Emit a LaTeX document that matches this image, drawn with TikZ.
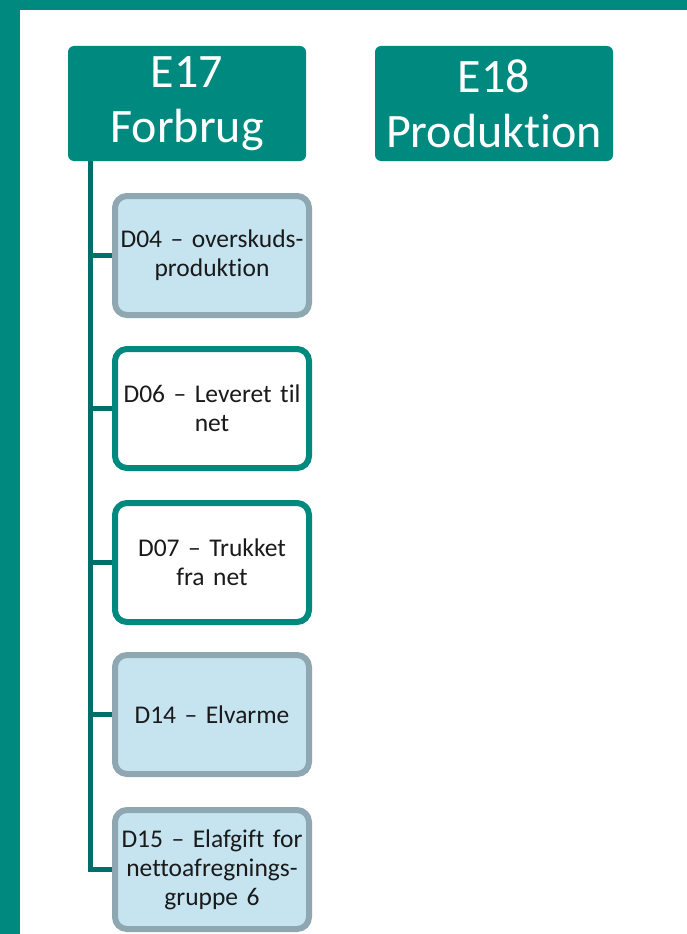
\documentclass[tikz,border=0pt]{standalone}
\usepackage{fontspec}
\setmainfont{Carlito}[Ligatures=NoCommon, WordSpace={0.6,0,0}]
\usetikzlibrary{positioning}

\definecolor{Band}{HTML}{00897F}
\definecolor{Head}{HTML}{00897F}
\definecolor{Spine}{HTML}{006E6A}
\definecolor{Rim}{HTML}{8FA7B1}
\definecolor{Pale}{HTML}{C6E4F0}
\definecolor{Ink}{HTML}{1A1A1A}

\tikzset{
  headbox/.style={fill=Head, text=white, rounded corners=6pt, minimum width=238pt,
    minimum height=115pt, align=center, font=\fontsize{48}{55}\selectfont, inner sep=0pt},
  itembox/.style={rounded corners=12pt, line width=6pt, minimum width=194pt,
    minimum height=119pt, text width=190pt, align=center, text=Ink,
    font=\fontsize{25.5}{29}\selectfont, inner sep=0pt},
  shaded/.style={itembox, draw=Rim, fill=Pale},
  plain/.style={itembox, draw=Band, fill=white},
  branch/.style={draw=Spine, line width=5pt}
}

\begin{document}
\begin{tikzpicture}[x=1pt, y=-1pt]

 %%%%%%%%%% Frame %%%%%%%%%%
 \useasboundingbox (0,0) rectangle (687,934);
 \fill [white] (0,0) rectangle (687,934);
 \fill [Band] (0,0) rectangle (20,934);
 \fill [Band] (0,0) rectangle (687,10);

 %%%%%%%%%% Top level %%%%%%%%%%
 \node [headbox] (e17) at (187,103.5) {E17\\Forbrug};
 \node [headbox] (e18) at (494,103.5) {E18\\Produktion};

 %%%%%%%%%% Children %%%%%%%%%%
 \node [shaded] (d04) at (212,255.5) {D04 -- overskuds-\\produktion};
 \node [plain]  (d06) at (212,408.5) {D06 -- Leveret til\\net};
 \node [plain]  (d07) at (212,562.5) {D07 -- Trukket\\fra net};
 \node [shaded] (d14) at (212,714.5) {D14 -- Elvarme};
 \node [shaded] (d15) at (212,869.5) {D15 -- Elafgift for\\nettoafregnings-\\gruppe 6};

 %%%%%%%%%% Spine %%%%%%%%%%
 \coordinate (spine) at (90,161);
 \foreach \kid in {d04,d06,d07,d14,d15}
   \draw [branch] (spine) |- (\kid.west);

\end{tikzpicture}
\end{document}
